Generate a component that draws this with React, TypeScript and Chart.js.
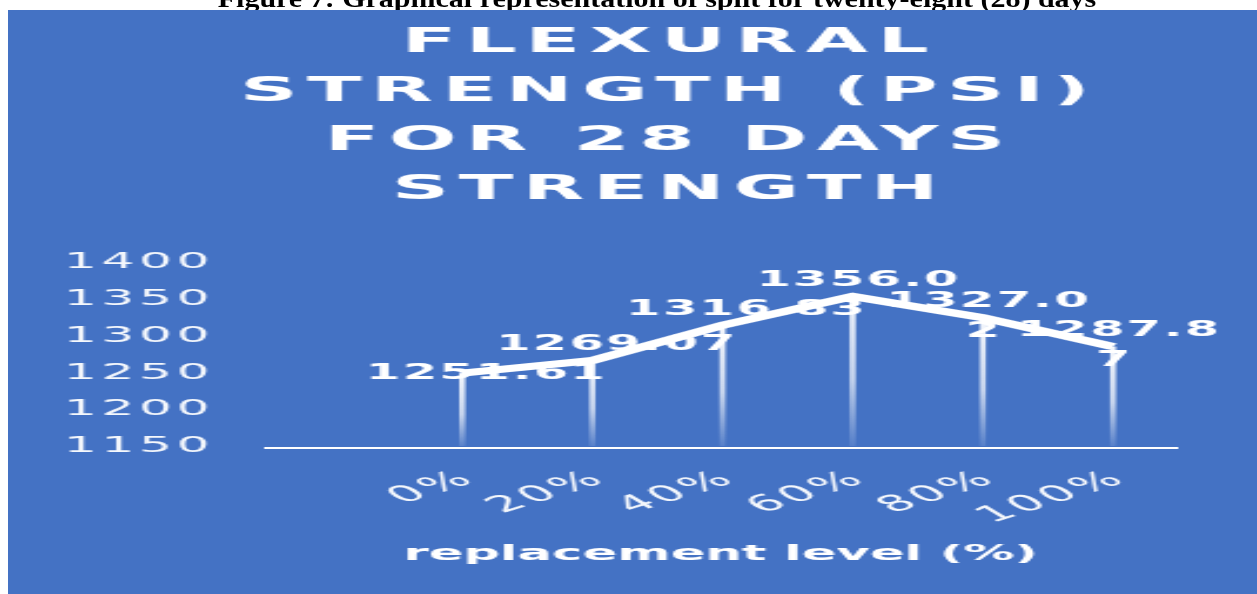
import React, { useEffect, useRef } from "react";
import { Chart, registerables } from "chart.js";

Chart.register(...registerables);

// ---- data ----
const categories = ["", "0%", "20%", "40%", "60%", "80%", "100%"];
const flexuralStrength: (number | null)[] = [null, 1251.61, 1269.07, 1316.83, 1356.0, 1327.02, 1287.87];
const dataLabels = ["", "1251.61", "1269.07", "1316.83", "1356.0", "1327.0\n2", "1287.8\n7"];
const yTickValues = [1150, 1200, 1250, 1300, 1350, 1400];
const titleLines = ["FLEXURAL", "STRENGTH (PSI)", "FOR 28 DAYS", "STRENGTH"];
const xAxisTitle = "replacement level (%)";
const caption = "Figure 7: Graphical representation of split for twenty-eight (28) days";

// ---- styling ----
const STRETCH = 2.35;
const W = 559;
const H = 584;
const FONT = '"DejaVu Sans", Verdana, sans-serif';
const BG = "#4472C4";

const decorPlugin = {
  id: "decor",
  beforeUpdate(chart: any) {
    chart.ctx.letterSpacing = "2px";
  },
  beforeDatasetsDraw(chart: any) {
    const ctx = chart.ctx as CanvasRenderingContext2D;
    const meta = chart.getDatasetMeta(0);
    const bottom = chart.chartArea.bottom;
    ctx.save();
    meta.data.forEach((pt: any, i: number) => {
      if (flexuralStrength[i] == null || !isFinite(pt.y)) return;
      const g = ctx.createLinearGradient(0, pt.y, 0, bottom);
      g.addColorStop(0, "rgba(255,255,255,0.95)");
      g.addColorStop(0.55, "rgba(255,255,255,0.7)");
      g.addColorStop(1, "rgba(255,255,255,0.08)");
      ctx.strokeStyle = g;
      ctx.lineWidth = 2.6;
      ctx.beginPath();
      ctx.moveTo(pt.x, pt.y);
      ctx.lineTo(pt.x, bottom - 2);
      ctx.stroke();
    });
    ctx.restore();
  },
  afterDatasetsDraw(chart: any) {
    const ctx = chart.ctx as CanvasRenderingContext2D;
    const meta = chart.getDatasetMeta(0);
    const dys = [0, 0, -16, -16, -16, -16, -16];
    const box = 82;
    const lineH = 30;
    ctx.save();
    ctx.font = `bold 21px ${FONT}`;
    (ctx as any).letterSpacing = "1px";
    ctx.fillStyle = "#ffffff";
    ctx.textBaseline = "middle";
    ctx.textAlign = "left";
    meta.data.forEach((pt: any, i: number) => {
      const txt = dataLabels[i];
      if (!txt || !isFinite(pt.y)) return;
      txt.split("\n").forEach((line, j) => {
        const w = ctx.measureText(line).width - 1;
        const x = w > box ? pt.x - box / 2 : pt.x - w / 2;
        ctx.fillText(line, x, pt.y + dys[i] + j * lineH);
      });
    });
    ctx.restore();
  },
  afterDraw(chart: any) {
    const ctx = chart.ctx as CanvasRenderingContext2D;
    const area = chart.chartArea;
    ctx.save();
    ctx.fillStyle = "#ffffff";
    ctx.textAlign = "center";
    ctx.textBaseline = "middle";
    ctx.font = `bold 34px ${FONT}`;
    (ctx as any).letterSpacing = "4px";
    titleLines.forEach((t, i) => ctx.fillText(t, W / 2 + 2, 33 + i * 48.9));
    ctx.font = `bold 21.8px ${FONT}`;
    (ctx as any).letterSpacing = "0px";
    ctx.fillText(xAxisTitle, (area.left + area.right) / 2 - 0.8, 544);
    ctx.restore();
  },
};

export default function App() {
  const canvasRef = useRef<HTMLCanvasElement | null>(null);

  useEffect(() => {
    document.documentElement.style.overflow = "hidden";
    const canvas = canvasRef.current;
    if (!canvas) return;
    const chart = new Chart(canvas, {
      type: "line",
      data: {
        labels: categories,
        datasets: [
          {
            label: "Flexural strength (psi)",
            data: flexuralStrength,
            borderColor: "#ffffff",
            borderWidth: 7,
            pointRadius: 0,
            pointHoverRadius: 0,
            tension: 0,
            spanGaps: false,
            fill: false,
          },
        ],
      },
      options: {
        responsive: false,
        devicePixelRatio: 1,
        animation: false,
        events: [],
        layout: { padding: { left: 0, right: 61.1, top: 254, bottom: 0 } },
        plugins: {
          legend: { display: false },
          title: { display: false },
          tooltip: { enabled: false },
        },
        scales: {
          x: {
            type: "category",
            offset: true,
            grid: { display: false, drawTicks: false },
            border: { display: true, color: "#ffffff", width: 2 },
            ticks: {
              color: "rgba(255,255,255,0.95)",
              font: { family: FONT, size: 22.5 },
              minRotation: 36,
              maxRotation: 36,
              autoSkip: false,
              padding: 17,
              labelOffset: 3.5,
            },
            afterFit(scale: any) {
              scale.height = 146;
            },
          },
          y: {
            min: 1150,
            max: 1400,
            grid: { display: false, drawTicks: false },
            border: { display: false },
            afterBuildTicks(scale: any) {
              scale.ticks = yTickValues.map((v) => ({ value: v }));
            },
            ticks: {
              color: "rgba(255,255,255,0.95)",
              font: { family: FONT, size: 22 },
              padding: 22.5,
              labelOffset: -1.5,
              callback: (v: any) => String(v),
            },
            afterFit(scale: any) {
              scale.width = 110.2;
            },
          },
        },
      },
      plugins: [decorPlugin],
    } as any);
    return () => chart.destroy();
  }, []);

  return (
    <div style={{ position: "relative", width: 1241, height: 500 }}>
      <div
        style={{
          position: "fixed",
          top: -14.5,
          left: 8,
          width: 1298,
          textAlign: "center",
          font: 'bold 25px "Liberation Serif", "Times New Roman", serif',
          lineHeight: "25px",
          whiteSpace: "nowrap",
          transform: "scaleX(1.2)",
          color: "#000",
        }}
      >
        {caption}
      </div>
      <div
        style={{
          position: "fixed",
          top: 10,
          left: 8,
          right: 0,
          bottom: 0,
          overflow: "hidden",
          background: BG,
        }}
      >
        <div style={{ width: W, height: H, transform: `scaleX(${STRETCH})`, transformOrigin: "0 0" }}>
          <canvas ref={canvasRef} width={W} height={H} style={{ width: W, height: H, display: "block" }} />
        </div>
      </div>
    </div>
  );
}
